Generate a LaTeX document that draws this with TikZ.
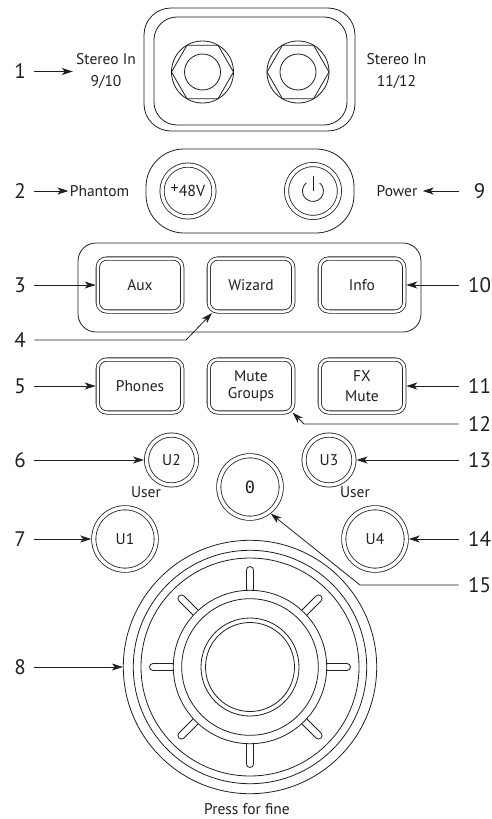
\documentclass[tikz,border=0pt]{standalone}
\usepackage{fontspec}
\setmainfont{PT Sans}
\newfontfamily\zerofont{DejaVu Sans Mono}
\usetikzlibrary{arrows.meta,shapes.geometric}
\definecolor{inkc}{HTML}{231F20}

\begin{document}
\begin{tikzpicture}[x=1pt, y=-1pt, line width=.8pt, color=inkc,
    every node/.style={font=\fontsize{15.5}{17}\selectfont, text=inkc, inner sep=0pt},
    arw/.style={-{Stealth[length=11pt, width=7pt, inset=3pt]}},
    numl/.style={font=\fontsize{21}{24}\selectfont, minimum width=28pt},
    numr/.style={font=\fontsize{21}{24}\selectfont, minimum width=41pt},
    panel/.style={draw, rectangle},
    btn/.style={draw, rectangle, rounded corners=9pt, double, double distance=2.5pt, outer sep=2.05pt, minimum width=84.5pt, minimum height=53pt, align=center},
    cbtn/.style={draw, circle, double, double distance=3.4pt, outer sep=2.5pt, minimum size=#1},
    ring/.style={draw, circle, fill=white, minimum size=#1}]
\useasboundingbox (0,0) rectangle (491,819);

\node[panel, rounded corners=27pt, minimum width=211pt, minimum height=123pt] (jackouter) at (249.5,69.5) {};
\node[panel, rounded corners=23pt, minimum width=193pt, minimum height=108pt] (jackinner) at (250.5,71) {};
\node[ring=62pt] (jl) at (202.5,72) {};
\node[draw, regular polygon, regular polygon sides=6, minimum size=62pt] (jlhex) at (202.5,72) {};
\node[ring=36pt] (jlin) at (202.5,72) {};
\node[ring=62pt] (jr) at (298,72) {};
\node[draw, regular polygon, regular polygon sides=6, minimum size=62pt] (jrhex) at (298,72) {};
\node[ring=36pt] (jrin) at (298,72) {};
\node[align=center, inner sep=3pt] (st9) at (106,71.5) {Stereo In\\[5pt]9/10};
\node[align=center] (st11) at (396.5,71.5) {Stereo In\\[5pt]11/12};

\node[panel, rounded corners=38pt, minimum width=208pt, minimum height=84pt] (ctlpanel) at (250,191) {};
\node[cbtn=52pt, font=\fontsize{16}{17}\selectfont] (ph) at (188,191) {\raisebox{3pt}{+}48V};
\node[cbtn=53pt] (pwr) at (313,191) {};
\draw (pwr.center) ++(0,-15) -- ++(0,15);
\draw (pwr.center) ++(-50:10.5) arc[start angle=-50, end angle=230, radius=10.5];
\node[inner sep=1pt] (phtxt) at (99.5,191) {Phantom};
\node[inner sep=5pt] (pwtxt) at (397,191) {Power};

\node[panel, rounded corners=18pt, minimum width=343pt, minimum height=89pt] (btnpanel) at (249.5,287.5) {};
\node[btn] (aux) at (140,285) {Aux};
\node[btn] (wizard) at (251,285) {Wizard};
\node[btn] (info) at (362,285) {Info};
\node[btn] (phones) at (140,386) {Phones};
\node[btn] (mute) at (251,386) {Mute\\Groups};
\node[btn] (fx) at (362,386) {FX\\[3pt]Mute};

\node[cbtn=50pt] (u2) at (171.5,460) {U2};
\node[cbtn=50pt] (u3) at (329,460) {U3};
\node[cbtn=62.5pt] (zero) at (250,487) {\zerofont\fontsize{17}{18}\selectfont 0};
\node[cbtn=62.5pt] (u1) at (125,539) {U1};
\node[cbtn=62.5pt] (u4) at (375,539) {U4};
\node (userl) at (146,492.5) {User};
\node (userr) at (355,492.5) {User};

\node[ring=253.4pt] (knob) at (250,667) {};
\node[ring=233.4pt] (knobb) at (250,667) {};
\node[ring=218pt] (knobc) at (250,667) {};
\foreach \a in {0,45,...,315}
    \draw[rotate around={\a:(knob.center)}] (knob.center) ++(70,-3.5) -- ++(27,0) arc[start angle=-90, end angle=90, radius=3.5] -- ++(-27,0);
\node[ring=153.4pt] (knobd) at (250,667) {};
\node[ring=136.6pt] (knobe) at (250,667) {};
\node[ring=98pt] (knobf) at (250,667) {};
\node[ring=89pt] (knobg) at (250,667) {};
\node (fine) at (247,809) {Press for fine};

\node[numl] (n1) at (20,71.5) {1};
\node[numl] (n2) at (20,191) {2};
\node[numl] (n3) at (20,285) {3};
\node[numl] (n4) at (20,340) {4};
\node[numl] (n5) at (20,386) {5};
\node[numl] (n6) at (20,460) {6};
\node[numl] (n7) at (20,539) {7};
\node[numl] (n8) at (20,667) {8};
\node[numr] (n9) at (479.5,191) {9};
\node[numr] (n10) at (479.5,285) {10};
\node[numr] (n11) at (479.5,386) {11};
\node[numr] (n12) at (479.5,424) {12};
\node[numr] (n13) at (479.5,460) {13};
\node[numr] (n14) at (479.5,539) {14};
\node[numr] (n15) at (479.5,585) {15};

\coordinate (k4) at (186,340);
\coordinate (k12) at (304,424);
\coordinate (k15) at (360,585);
\coordinate (wz) at (212,313);
\coordinate (mg) at (292.5,412.5);

\draw[arw] (n1) -- (st9);
\draw[arw] (n2) -- (phtxt);
\draw[arw] (n3) -- (aux);
\draw[arw] (n4) -- (k4) -- (wz);
\draw[arw] (n5) -- (phones);
\draw[arw] (n6) -- (u2);
\draw[arw] (n7) -- (u1);
\draw[arw] (n8) -- (knob);
\draw[arw] (n9) -- (pwtxt);
\draw[arw] (n10) -- (info);
\draw[arw] (n11) -- (fx);
\draw[arw] (n12) -- (k12) -- (mg);
\draw[arw] (n13) -- (u3);
\draw[arw] (n14) -- (u4);
\draw[arw] (n15) -- (k15) -- (zero.-52);
\end{tikzpicture}
\end{document}
